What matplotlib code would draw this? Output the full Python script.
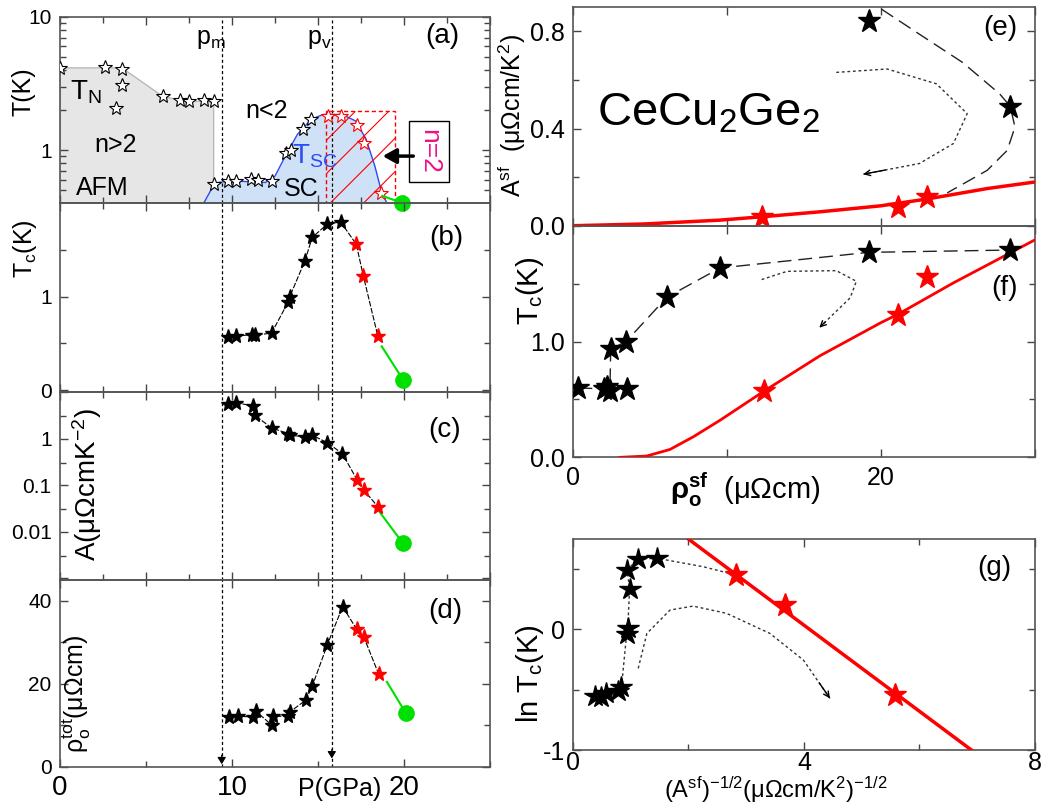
import matplotlib
matplotlib.use('Agg')
import matplotlib.pyplot as plt
from matplotlib.patches import Rectangle

plt.rcParams['font.family'] = ['Liberation Sans', 'DejaVu Sans']
plt.rcParams['mathtext.fontset'] = 'custom'
plt.rcParams['mathtext.rm'] = 'Liberation Sans'
plt.rcParams['mathtext.it'] = 'Liberation Sans:italic'
plt.rcParams['mathtext.bf'] = 'Liberation Sans:bold'
plt.rcParams['hatch.linewidth'] = 0.8

# ---- data ----
pm, pv = 9.4, 15.8

# (a) phase diagram
afm_p = [0, 0, 3.6, 5.95, 7.0, 8.93, 8.93]
afm_t = [0.4, 4.14, 4.14, 2.54, 2.36, 2.29, 0.4]
sc_p = [8.36, 8.8, 9.2, 10.0, 11.94, 12.5, 13.1, 13.8, 14.6, 15.3, 16.4, 17.2, 17.8, 18.3, 18.7, 19.0]
sc_t = [0.40, 0.507, 0.57, 0.586, 0.57, 0.638, 0.90, 1.31, 1.70, 1.85, 1.85, 1.65, 1.2, 0.76, 0.48, 0.40]
a_tn_p = [0.0, 2.62, 3.6, 3.63, 3.25, 5.96, 6.99, 7.5, 8.39, 8.93]
a_tn_t = [4.14, 4.19, 4.07, 3.10, 2.08, 2.54, 2.36, 2.33, 2.36, 2.33]
a_sc_p = [8.93, 9.77, 10.23, 11.1, 11.5, 12.3, 13.15, 13.44, 14.12, 14.6]
a_sc_t = [0.553, 0.586, 0.586, 0.603, 0.592, 0.586, 0.944, 1.0, 1.445, 1.70]
a_red_p = [15.6, 16.35, 17.28, 17.7, 18.64]
a_red_t = [1.80, 1.80, 1.54, 1.12, 0.479]
a_green_p = [18.74, 19.9]
a_green_t = [0.452, 0.40]
n2_box = (15.45, 19.5, 0.4, 1.98)

# (b) Tc
b_p = [9.77, 10.25, 11.16, 11.32, 12.3, 13.26, 13.36, 14.24, 14.66, 15.53, 16.31]
b_tc = [0.567, 0.578, 0.592, 0.585, 0.61, 0.94, 1.0, 1.383, 1.631, 1.773, 1.798]
b_red_p = [17.22, 17.63, 18.48]
b_red_tc = [1.56, 1.223, 0.574]
b_green_p = [18.7, 19.96]
b_green_tc = [0.468, 0.106]

# (c) A coefficient
c_p = [9.77, 10.25, 11.2, 11.32, 12.3, 13.26, 13.36, 14.27, 14.66, 15.53, 16.41]
c_a = [5.62, 5.9, 5.0, 3.16, 1.69, 1.28, 1.18, 1.09, 1.18, 0.82, 0.477]
c_red_p = [17.28, 17.67, 18.48]
c_red_a = [0.128, 0.078, 0.0343]
c_green_p = [18.5, 19.94]
c_green_a = [0.0291, 0.00562]

# (d) residual resistivity
d_p = [9.81, 10.32, 11.22, 11.37, 12.33, 12.37, 13.24, 13.38, 14.29, 14.66, 15.53, 16.43]
d_rho = [12.05, 12.2, 12.05, 13.5, 10.0, 12.2, 12.2, 13.3, 16.1, 19.4, 29.3, 38.6]
d_red_p = [17.25, 17.67, 18.53]
d_red_rho = [33.1, 31.2, 22.3]
d_green_p = [19.0, 20.1]
d_green_rho = [20.5, 13.0]

# (e) A^sf vs rho^sf
e_red_x = [12.3, 21.1, 23.0]
e_red_y = [0.037, 0.075, 0.12]
e_blk_x = [19.2, 28.4]
e_blk_y = [0.843, 0.49]
e_fit_x = [0, 4.57, 9.55, 12.3, 16.0, 20.0, 23.0, 26.9, 30.0]
e_fit_y = [0, 0.007, 0.023, 0.037, 0.057, 0.082, 0.11, 0.153, 0.18]
e_dash_x = [20.04, 22.5, 25.3, 27.7, 28.4, 28.7, 28.2, 26.9, 24.3]
e_dash_y = [0.891, 0.788, 0.672, 0.543, 0.491, 0.406, 0.31, 0.228, 0.135]
e_dot_x = [17.1, 20.4, 23.6, 25.6, 24.7, 22.5, 18.85]
e_dot_y = [0.631, 0.645, 0.584, 0.461, 0.338, 0.256, 0.212]

# (f) Tc vs rho^sf
f_blk_x = [0.35, 2.0, 2.2, 2.4, 3.5, 2.45, 3.45, 6.1, 9.55, 19.2, 28.4]
f_blk_y = [0.60, 0.59, 0.605, 0.577, 0.59, 0.935, 1.0, 1.383, 1.635, 1.77, 1.79]
f_line_idx = [0, 1, 2, 3, 5, 6, 7, 8, 9, 10]
f_red_x = [12.4, 21.1, 23.0]
f_red_y = [0.577, 1.226, 1.555]
f_fit_x = [3.05, 4.78, 6.3, 7.81, 9.55, 12.4, 16.04, 20.0, 21.1, 24.7, 30.0]
f_fit_y = [0.0, 0.011, 0.068, 0.177, 0.32, 0.571, 0.877, 1.163, 1.235, 1.506, 1.878]
f_dot_x = [12.25, 13.9, 17.1, 18.4, 18.0, 16.0]
f_dot_y = [1.535, 1.606, 1.612, 1.52, 1.377, 1.12]

# (g) ln Tc vs A^-1/2
g_blk_x = [0.38, 0.48, 0.58, 0.78, 0.84, 0.93, 0.95, 0.98, 0.94, 1.13, 1.46]
g_blk_y = [-0.55, -0.56, -0.53, -0.51, -0.48, -0.04, 0.01, 0.33, 0.49, 0.58, 0.585]
g_path_x = [0.84, 0.93, 0.95, 0.98, 0.94, 1.13, 1.46, 2.26, 2.83]
g_path_y = [-0.48, -0.04, 0.01, 0.33, 0.49, 0.58, 0.585, 0.515, 0.446]
g_red_x = [2.83, 3.67, 5.58]
g_red_y = [0.446, 0.198, -0.545]
g_fit_x = [2.0, 6.9]
g_fit_y = [0.744, -1.0]
g_dot_x = [1.13, 1.28, 1.68, 2.08, 2.66, 3.41, 3.99, 4.45]
g_dot_y = [-0.325, -0.036, 0.157, 0.19, 0.13, -0.036, -0.256, -0.573]

GREEN = '#00e000'
SPINE = '#555555'


def style(ax, xmaj, xmin, ymaj, ymin, ylabels, xlabels=None, xsize=20, ysize=15, xpad=6):
    ax.set_xticks(xmaj)
    ax.set_xticks(xmin, minor=True)
    ax.set_yticks(ymaj)
    ax.set_yticks(ymin, minor=True)
    ax.set_yticklabels(ylabels)
    if xlabels is None:
        ax.set_xticklabels([])
    else:
        ax.set_xticklabels(xlabels)
    ax.tick_params(which='both', direction='in', top=True, right=True, color='#444444')
    ax.tick_params(which='major', length=6, width=1)
    ax.tick_params(which='minor', length=4, width=1)
    ax.tick_params(axis='y', labelsize=ysize, pad=6)
    ax.tick_params(axis='x', labelsize=xsize, pad=xpad)
    for s in ax.spines.values():
        s.set_color(SPINE)
        s.set_linewidth(1.2)
    ax.patch.set_visible(False)


def pvlines(ax):
    for p in (pm, pv):
        ax.axvline(p, color='k', ls=(0, (2.5, 2)), lw=0.9, zorder=1)


fig = plt.figure(figsize=(10.55, 8.07), dpi=100)
L, W = 0.0569, 0.4076
R, RW = 0.5431, 0.4379

# ---------------- (a) ----------------
ax = fig.add_axes([L, 0.7485, W, 0.2305])
ax.set_yscale('log')
ax.fill(afm_p, afm_t, facecolor='#e6e6e6', edgecolor='#b8b8b8', lw=1, zorder=1)
ax.fill_between(sc_p, 0.4, sc_t, color='#cfe1f7', lw=0, zorder=1)
ax.plot(sc_p, sc_t, color='#2b4cf0', lw=1, zorder=2)
x0, x1, y0, y1 = n2_box
ax.add_patch(Rectangle((x0, y0), x1 - x0, y1 - y0, fill=False, edgecolor='red',
                       hatch='/', ls=(0, (3, 2)), lw=1, zorder=2))
pvlines(ax)
ax.plot(a_tn_p, a_tn_t, ls='none', marker='*', ms=10, mfc='white', mec='k', mew=0.8, zorder=4)
ax.plot(a_sc_p, a_sc_t, ls='none', marker='*', ms=10, mfc='white', mec='k', mew=0.8, zorder=4)
ax.plot(a_red_p, a_red_t, ls='none', marker='*', ms=10, mfc='white', mec='red', mew=0.8, zorder=4)
ax.plot(a_green_p, a_green_t, color=GREEN, lw=1.5, zorder=4)
ax.plot(a_green_p[-1], a_green_t[-1], 'o', color=GREEN, ms=11, clip_on=False, zorder=6)
ax.set_xlim(0, 25)
ax.set_ylim(0.4, 10)
style(ax, [0, 5, 10, 15, 20, 25], [2.5, 7.5, 12.5, 17.5, 22.5],
      [1, 10], [0.5, 0.6, 0.7, 0.8, 0.9, 2, 3, 4, 5, 6, 7, 8, 9], ['1', '10'])
ax.yaxis.set_minor_formatter(matplotlib.ticker.NullFormatter())
ax.text(7.9, 6.3, r'$\mathregular{p_m}$', fontsize=18, va='baseline')
ax.text(14.35, 6.3, r'$\mathregular{p_v}$', fontsize=18, va='baseline')
ax.text(0.89, 0.90, '(a)', transform=ax.transAxes, fontsize=20, ha='center', va='center')
ax.text(0.6, 2.7, r'$\mathregular{T_N}$', fontsize=20, va='center')
ax.text(2.0, 1.1, 'n>2', fontsize=18, va='center')
ax.text(0.9, 0.515, 'AFM', fontsize=18, va='center')
ax.text(10.8, 1.98, 'n<2', fontsize=18, va='center')
ax.text(13.5, 0.9, r'$\mathregular{T_{SC}}$', fontsize=20, color='#2b4cf0', va='center')
ax.text(13.0, 0.51, 'SC', fontsize=18, va='center')
ax.text(21.45, 0.98, 'n=2', rotation=270, color='#ee1188', fontsize=19, ha='center', va='center',
        bbox=dict(boxstyle='square,pad=0.3', fc='white', ec='black', lw=1), zorder=5)
ax.annotate('', xy=(18.6, 0.9), xytext=(20.7, 0.9),
            arrowprops=dict(arrowstyle='-|>,head_length=0.8,head_width=0.45', color='k', lw=2.5),
            zorder=5)

# ---------------- (b) ----------------
ax = fig.add_axes([L, 0.5143, W, 0.2342])
pvlines(ax)
ax.plot(b_p + b_red_p, b_tc + b_red_tc, color='k', ls=(0, (5, 1.5)), lw=0.8, zorder=2)
ax.plot(b_p, b_tc, ls='none', marker='*', ms=11, color='k', zorder=4)
ax.plot(b_red_p, b_red_tc, ls='none', marker='*', ms=11, color='red', zorder=4)
ax.plot(b_green_p, b_green_tc, color=GREEN, lw=1.5, zorder=3)
ax.plot(b_green_p[-1], b_green_tc[-1], 'o', color=GREEN, ms=11, zorder=4)
ax.set_xlim(0, 25)
ax.set_ylim(-0.02, 2.0)
style(ax, [0, 5, 10, 15, 20, 25], [2.5, 7.5, 12.5, 17.5, 22.5], [0, 1], [0.5, 1.5], ['0', '1'])
ax.text(0.898, 0.815, '(b)', transform=ax.transAxes, fontsize=20, ha='center', va='center')

# ---------------- (c) ----------------
ax = fig.add_axes([L, 0.2813, W, 0.233])
ax.set_yscale('log')
pvlines(ax)
ax.plot(c_p + c_red_p, c_a + c_red_a, color='k', ls=(0, (5, 1.5)), lw=0.8, zorder=2)
ax.plot(c_p, c_a, ls='none', marker='*', ms=11, color='k', zorder=4)
ax.plot(c_red_p, c_red_a, ls='none', marker='*', ms=11, color='red', zorder=4)
ax.plot(c_green_p, c_green_a, color=GREEN, lw=1.5, zorder=3)
ax.plot(c_green_p[-1], c_green_a[-1], 'o', color=GREEN, ms=11, zorder=4)
ax.set_xlim(0, 25)
ax.set_ylim(0.00092, 9.7)
style(ax, [0, 5, 10, 15, 20, 25], [2.5, 7.5, 12.5, 17.5, 22.5],
      [0.001, 0.01, 0.1, 1, 10], [0.003, 0.03, 0.3, 3], ['', '0.01', '0.1', '1', ''])
ax.yaxis.set_minor_formatter(matplotlib.ticker.NullFormatter())
ax.text(0.895, 0.80, '(c)', transform=ax.transAxes, fontsize=20, ha='center', va='center')

# ---------------- (d) ----------------
ax = fig.add_axes([L, 0.0496, W, 0.2317])
pvlines(ax)
ax.plot(d_p + d_red_p, d_rho + d_red_rho, color='k', ls=(0, (5, 1.5)), lw=0.8, zorder=2)
ax.plot(d_p, d_rho, ls='none', marker='*', ms=11, color='k', zorder=4)
ax.plot(d_red_p, d_red_rho, ls='none', marker='*', ms=11, color='red', zorder=4)
ax.plot(d_green_p, d_green_rho, color=GREEN, lw=1.5, zorder=3)
ax.plot(d_green_p[-1], d_green_rho[-1], 'o', color=GREEN, ms=11, zorder=4)
for p, yy in ((pm, 1.0), (pv, 2.4)):
    ax.annotate('', xy=(p, yy - 1.0), xytext=(p, yy + 2.5),
                arrowprops=dict(arrowstyle='-|>,head_length=0.4,head_width=0.25', color='k', lw=0.9))
ax.set_xlim(0, 25)
ax.set_ylim(0, 45)
style(ax, [0, 10, 20], [5, 15, 25], [0, 20, 40], [10, 30], ['0', '20', '40'],
      xlabels=['0', '10', '20'])
ax.text(0.895, 0.834, '(d)', transform=ax.transAxes, fontsize=20, ha='center', va='center')
fig.text(0.322, 0.022, 'P(GPa)', fontsize=18, ha='center', va='center')

# left y labels ((c) and (d) sit inside their frames, as in the original)
fig.text(0.022, 0.886, 'T(K)', rotation=90, fontsize=18, ha='center', va='center')
fig.text(0.024, 0.692, r'$\mathregular{T_c(K)}$', rotation=90, fontsize=18, ha='center', va='center')
fig.text(0.083, 0.399, r'$\mathregular{A(μΩcmK^{-2})}$', rotation=90, fontsize=20, ha='center', va='center')
fig.text(0.073, 0.14, r'$\mathregular{ρ_o^{tot}(μΩcm)}$', rotation=90, fontsize=18, ha='center', va='center')

# ---------------- (e) ----------------
ax = fig.add_axes([R, 0.7203, RW, 0.271])
ax.plot(e_fit_x, e_fit_y, color='red', lw=2.5, zorder=3)
ax.plot(e_dash_x, e_dash_y, color='#222222', ls=(0, (10, 5)), lw=1, zorder=2)
ax.plot(e_dot_x, e_dot_y, color='#333333', ls=(0, (2, 2)), lw=1, zorder=2)
ax.annotate('', xy=(e_dot_x[-1], e_dot_y[-1]), xytext=(e_dot_x[-2], e_dot_y[-2]),
            arrowprops=dict(arrowstyle='->', color='k', lw=1, shrinkA=25, shrinkB=0))
ax.plot(e_red_x, e_red_y, ls='none', marker='*', ms=17, color='red', zorder=4)
ax.plot(e_blk_x, e_blk_y, ls='none', marker='*', ms=17, color='k', zorder=4)
ax.set_xlim(0, 30)
ax.set_ylim(0, 0.9)
style(ax, [0, 10, 20, 30], [], [0, 0.4, 0.8], [0.2, 0.6], ['0.0', '0.4', '0.8'], ysize=18)
ax.text(0.924, 0.904, '(e)', transform=ax.transAxes, fontsize=20, ha='center', va='center')
ax.text(0.052, 0.515, r'$\mathregular{CeCu_2Ge_2}$', transform=ax.transAxes, fontsize=34,
        ha='left', va='center')
fig.text(0.485, 0.857, r'$\mathregular{A^{sf}}$  $\mathregular{(μΩcm/K^2)}$', rotation=90,
         fontsize=18, ha='center', va='center')

# ---------------- (f) ----------------
ax = fig.add_axes([R, 0.4333, RW, 0.287])
ax.plot(f_fit_x, f_fit_y, color='red', lw=2, zorder=3)
ax.plot([f_blk_x[i] for i in f_line_idx], [f_blk_y[i] for i in f_line_idx],
        color='#222222', ls=(0, (10, 5)), lw=1, zorder=2)
ax.plot(f_dot_x, f_dot_y, color='#333333', ls=(0, (2, 2)), lw=1, zorder=2)
ax.annotate('', xy=(f_dot_x[-1], f_dot_y[-1]), xytext=(f_dot_x[-2], f_dot_y[-2]),
            arrowprops=dict(arrowstyle='->', color='k', lw=1, shrinkA=25, shrinkB=0))
ax.plot(f_red_x, f_red_y, ls='none', marker='*', ms=17, color='red', zorder=4)
ax.plot(f_blk_x, f_blk_y, ls='none', marker='*', ms=17, color='k', zorder=4)
ax.set_xlim(0, 30)
ax.set_ylim(0, 2.0)
style(ax, [0, 10, 20, 30], [], [0, 1], [0.5, 1.5], ['0.0', '1.0'],
      xlabels=['0', '', '20', ''], xsize=18, ysize=18)
ax.text(0.935, 0.729, '(f)', transform=ax.transAxes, fontsize=20, ha='center', va='center')
fig.text(0.502, 0.64, r'$\mathregular{T_c(K)}$', rotation=90, fontsize=21, ha='center', va='center')
fig.text(0.706, 0.393, r'$\mathbf{ρ_o^{sf}}$  $\mathregular{(μΩcm)}$', fontsize=21,
         ha='center', va='center')

# ---------------- (g) ----------------
ax = fig.add_axes([R, 0.0706, RW, 0.2614])
ax.plot(g_fit_x, g_fit_y, color='red', lw=2.5, zorder=3)
ax.plot(g_path_x, g_path_y, color='#333333', ls=(0, (2, 2)), lw=1, zorder=2)
ax.plot(g_dot_x, g_dot_y, color='#333333', ls=(0, (2, 2)), lw=1, zorder=2)
ax.annotate('', xy=(g_dot_x[-1], g_dot_y[-1]), xytext=(g_dot_x[-2], g_dot_y[-2]),
            arrowprops=dict(arrowstyle='->', color='k', lw=1, shrinkA=20, shrinkB=0))
ax.plot(g_red_x, g_red_y, ls='none', marker='*', ms=17, color='red', zorder=4)
ax.plot(g_blk_x, g_blk_y, ls='none', marker='*', ms=16, color='k', zorder=4)
ax.set_xlim(0, 8)
ax.set_ylim(-1, 0.744)
style(ax, [0, 4, 8], [2, 6], [-1, 0], [-0.5, 0.5], ['-1', '0'],
      xlabels=['0', '4', '8'], xsize=18, ysize=18, xpad=1)
ax.text(0.913, 0.863, '(g)', transform=ax.transAxes, fontsize=20, ha='center', va='center')
fig.text(0.502, 0.166, r'$\mathregular{ln\ T_c(K)}$', rotation=90, fontsize=21, ha='center', va='center')
fig.text(0.735, 0.003, r'$\mathregular{(A^{sf})^{-1/2}(μΩcm/K^2)^{-1/2}}$', fontsize=17,
         ha='center', va='bottom')

fig.savefig('out.png', dpi=100)
